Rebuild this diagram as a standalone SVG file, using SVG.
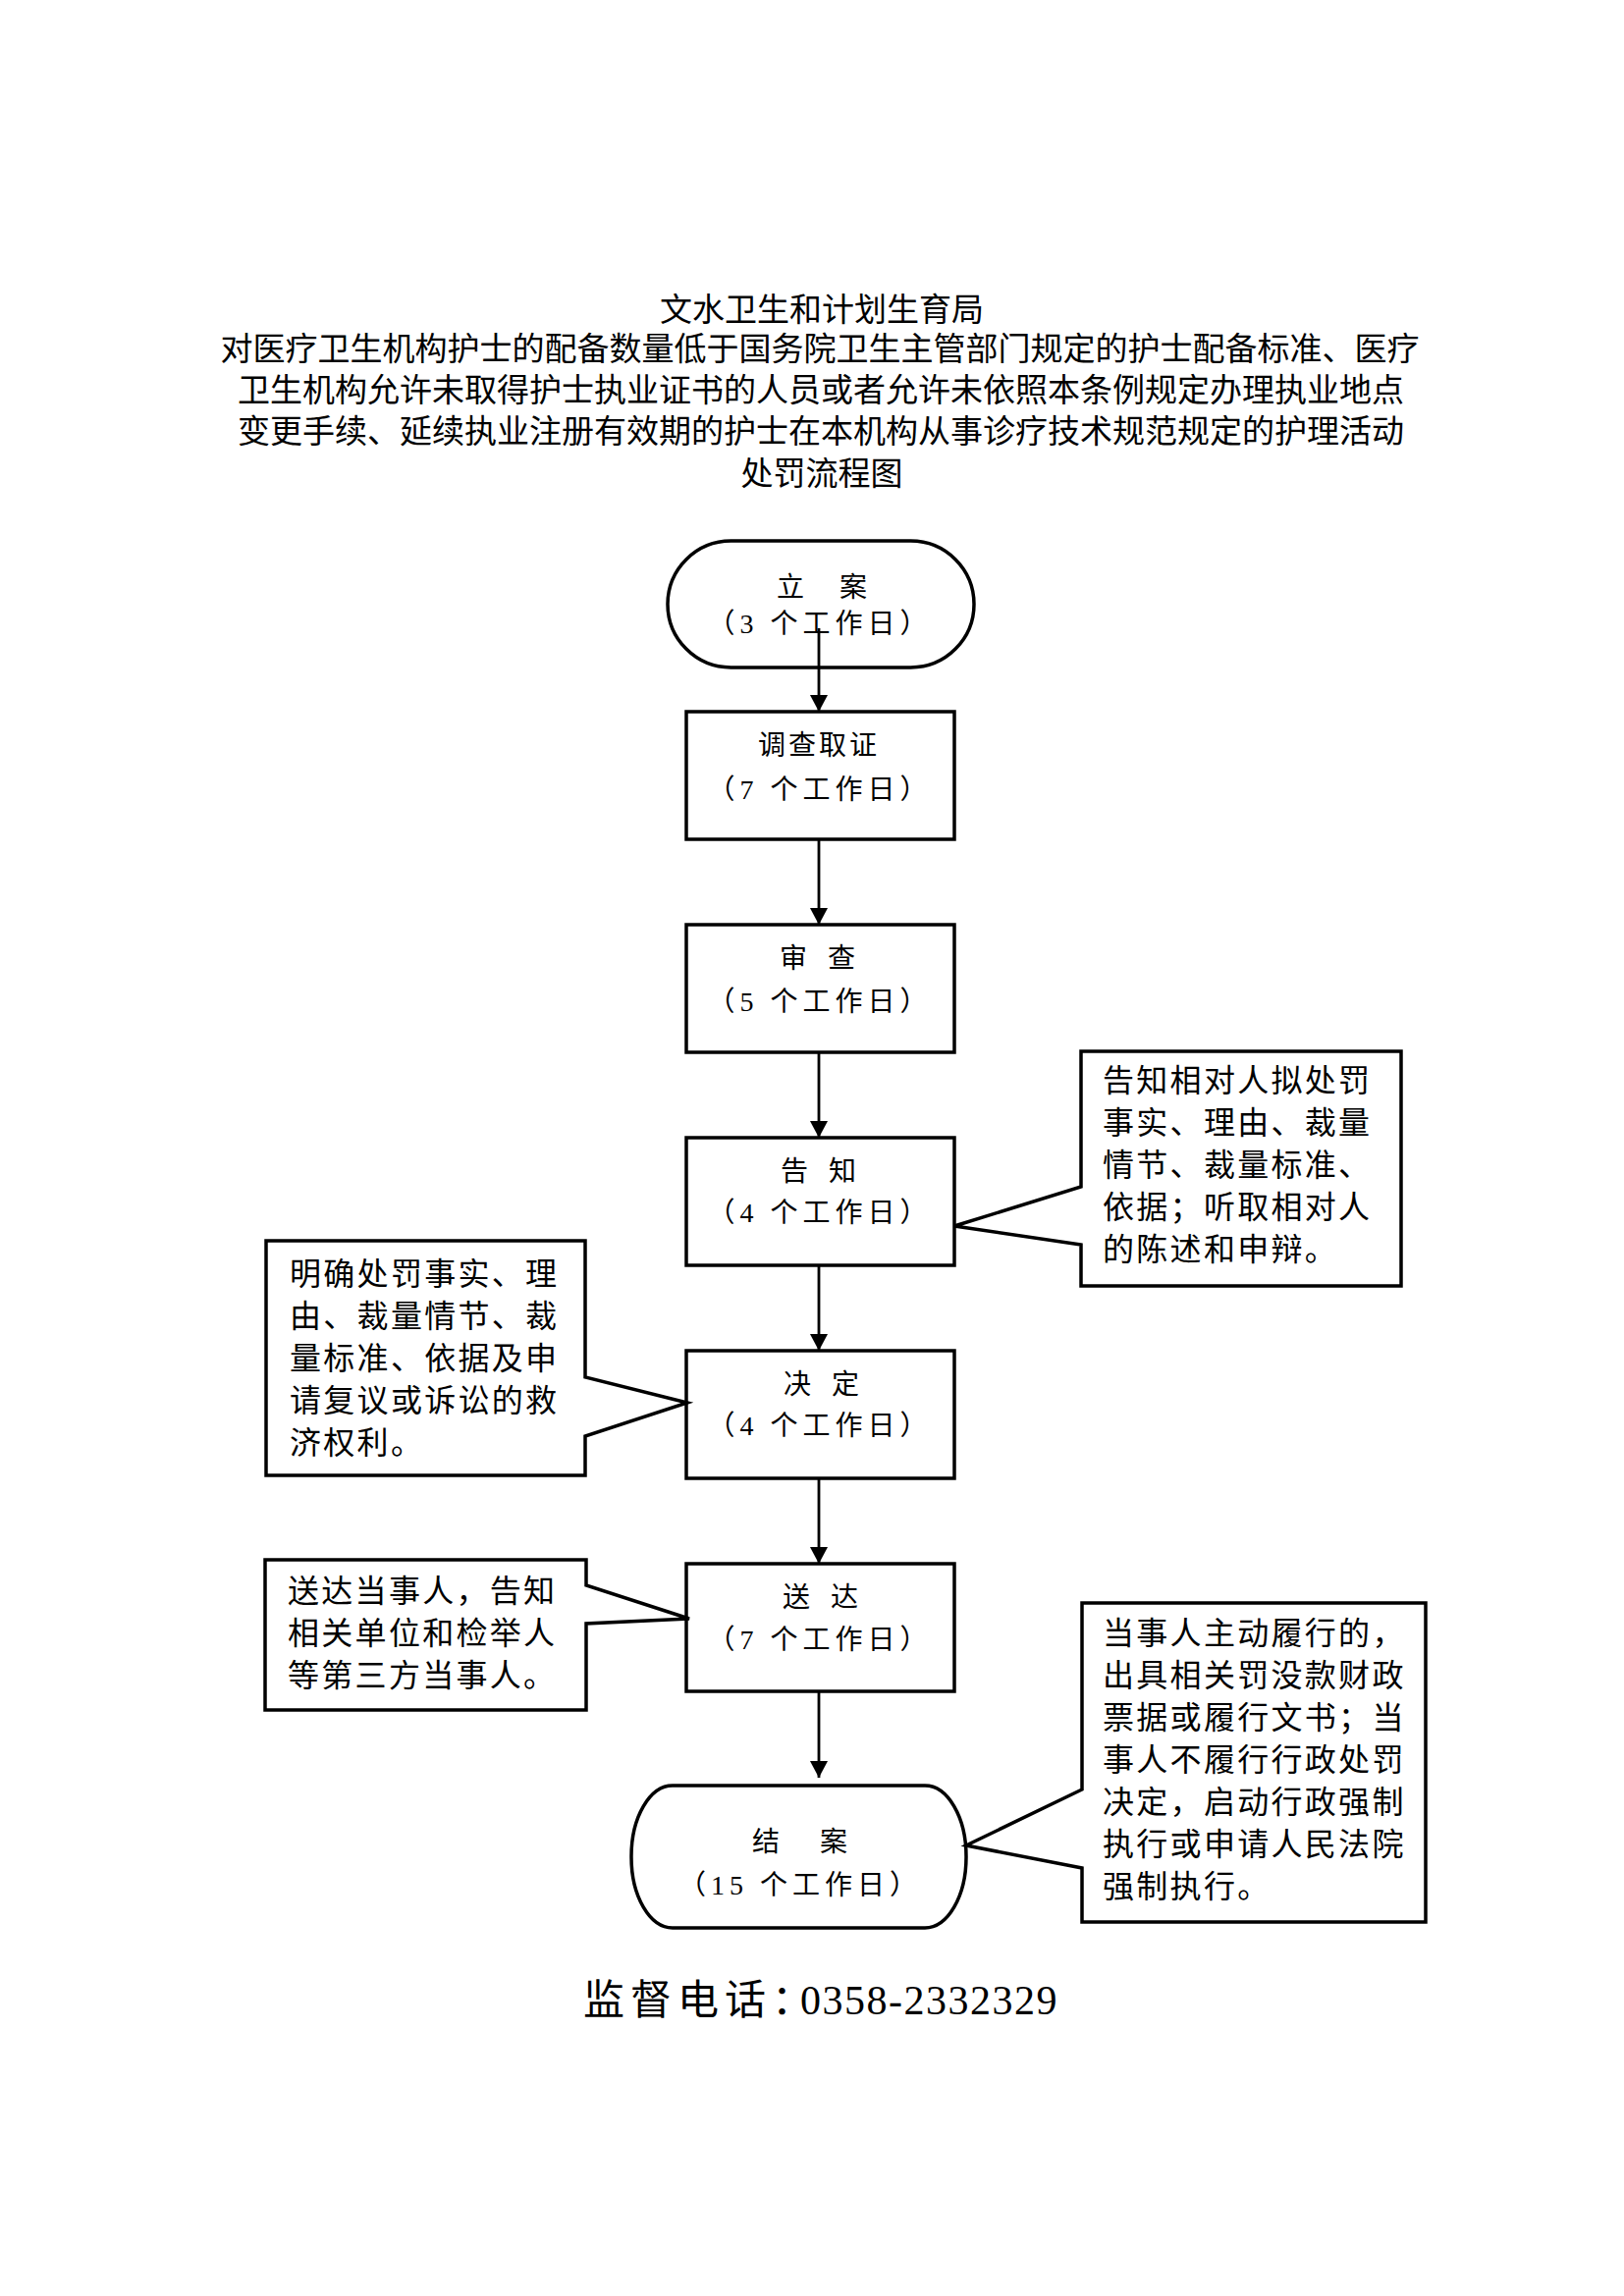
<svg xmlns="http://www.w3.org/2000/svg" width="1654" height="2339" viewBox="0 0 1654 2339">
<style>
.title{font-family:"Noto Sans CJK SC","Noto Sans",sans-serif;font-size:33px;fill:#000;text-anchor:middle}
.node{fill:#fff;stroke:#000;stroke-width:3.5}
.lbl{font-family:"Liberation Serif","Noto Sans CJK SC",serif;font-size:28px;fill:#000;text-anchor:middle}
.call{font-family:"Noto Sans CJK SC","Noto Sans",sans-serif;font-size:32px;letter-spacing:2.3px;fill:#000}
.conn{stroke:#000;stroke-width:2.8;fill:none}
</style>
<defs>
<marker id="ah" markerUnits="userSpaceOnUse" markerWidth="18" markerHeight="18" viewBox="0 0 18 18" refX="17" refY="9" orient="auto">
<path d="M0,0 L17,9 L0,18 Z" fill="#000"/>
</marker>
</defs>
<rect width="1654" height="2339" fill="#fff"/>
<g id="title">
<text class="title" x="837" y="327">文水卫生和计划生育局</text>
<text class="title" x="835" y="367">对医疗卫生机构护士的配备数量低于国务院卫生主管部门规定的护士配备标准、医疗</text>
<text class="title" x="836" y="409">卫生机构允许未取得护士执业证书的人员或者允许未依照本条例规定办理执业地点</text>
<text class="title" x="836" y="451">变更手续、延续执业注册有效期的护士在本机构从事诊疗技术规范规定的护理活动</text>
<text class="title" x="837" y="494">处罚流程图</text>
</g>
<g id="connectors">
<line class="conn" x1="834" y1="640" x2="834" y2="725" marker-end="url(#ah)"/>
<line class="conn" x1="834" y1="855" x2="834" y2="942" marker-end="url(#ah)"/>
<line class="conn" x1="834" y1="1072" x2="834" y2="1159" marker-end="url(#ah)"/>
<line class="conn" x1="834" y1="1289" x2="834" y2="1376" marker-end="url(#ah)"/>
<line class="conn" x1="834" y1="1506" x2="834" y2="1593" marker-end="url(#ah)"/>
<line class="conn" x1="834" y1="1723" x2="834" y2="1811" marker-end="url(#ah)"/>
</g>
<g id="n-lian">
<rect class="node" x="680" y="551" width="312" height="129" rx="64.5" ry="64.5" fill="none" style="fill:none"/>
<text class="lbl" x="805" y="608">立</text><text class="lbl" x="869" y="608">案</text>
<text class="lbl" x="835" y="645" letter-spacing="5">（3 个工作日）</text>
</g>
<g id="n-diaocha">
<rect class="node" x="699" y="725" width="273" height="130"/>
<text class="lbl" x="834" y="769" letter-spacing="3">调查取证</text>
<text class="lbl" x="835" y="814" letter-spacing="5">（7 个工作日）</text>
</g>
<g id="n-shencha">
<rect class="node" x="699" y="942" width="273" height="130"/>
<text class="lbl" x="808" y="986">审</text><text class="lbl" x="857" y="986">查</text>
<text class="lbl" x="835" y="1030" letter-spacing="5">（5 个工作日）</text>
</g>
<g id="n-gaozhi">
<rect class="node" x="699" y="1159" width="273" height="130"/>
<text class="lbl" x="809" y="1203">告</text><text class="lbl" x="858" y="1203">知</text>
<text class="lbl" x="835" y="1245" letter-spacing="5">（4 个工作日）</text>
</g>
<g id="n-jueding">
<rect class="node" x="699" y="1376" width="273" height="130"/>
<text class="lbl" x="812" y="1420">决</text><text class="lbl" x="861" y="1420">定</text>
<text class="lbl" x="835" y="1462" letter-spacing="5">（4 个工作日）</text>
</g>
<g id="n-songda">
<rect class="node" x="699" y="1593" width="273" height="130"/>
<text class="lbl" x="811" y="1637">送</text><text class="lbl" x="860" y="1637">达</text>
<text class="lbl" x="835" y="1680" letter-spacing="5">（7 个工作日）</text>
</g>
<g id="n-jiean">
<rect class="node" x="643" y="1819" width="341" height="145" rx="42" ry="72"/>
<text class="lbl" x="780" y="1886">结</text><text class="lbl" x="849" y="1886">案</text>
<text class="lbl" x="815" y="1930" letter-spacing="5">（15 个工作日）</text>
</g>
<g id="c-gaozhi">
<path class="node" d="M1101,1071 H1427 V1310 H1101 V1268 L972,1249 L1101,1209 Z"/>
<text class="call" x="1123" y="1112">告知相对人拟处罚</text>
<text class="call" x="1123" y="1155">事实、理由、裁量</text>
<text class="call" x="1123" y="1198">情节、裁量标准、</text>
<text class="call" x="1123" y="1241">依据；听取相对人</text>
<text class="call" x="1123" y="1284">的陈述和申辩。</text>
</g>
<g id="c-jueding">
<path class="node" d="M271,1264 H596 V1403 L700,1429 L596,1463 V1503 H271 Z"/>
<text class="call" x="295" y="1309">明确处罚事实、理</text>
<text class="call" x="295" y="1352">由、裁量情节、裁</text>
<text class="call" x="295" y="1395">量标准、依据及申</text>
<text class="call" x="295" y="1438">请复议或诉讼的救</text>
<text class="call" x="295" y="1481">济权利。</text>
</g>
<g id="c-songda">
<path class="node" d="M270,1589 H597 V1615 L702,1649 L597,1654 V1742 H270 Z"/>
<text class="call" x="293" y="1632">送达当事人，告知</text>
<text class="call" x="293" y="1675">相关单位和检举人</text>
<text class="call" x="293" y="1718">等第三方当事人。</text>
</g>
<g id="c-jiean">
<path class="node" d="M1102,1633 H1452 V1958 H1102 V1903 L984,1880 L1102,1823 Z"/>
<text class="call" x="1123" y="1675">当事人主动履行的，</text>
<text class="call" x="1123" y="1718">出具相关罚没款财政</text>
<text class="call" x="1123" y="1761">票据或履行文书；当</text>
<text class="call" x="1123" y="1804">事人不履行行政处罚</text>
<text class="call" x="1123" y="1847">决定，启动行政强制</text>
<text class="call" x="1123" y="1890">执行或申请人民法院</text>
<text class="call" x="1123" y="1933">强制执行。</text>
</g>
<g id="phone">
<text x="594" y="2052" font-family="Noto Sans CJK SC, sans-serif" font-size="42" letter-spacing="6" fill="#000">监督电话：<tspan x="815" font-family="Liberation Serif, serif" letter-spacing="1.5">0358-2332329</tspan></text>
</g>
</svg>
